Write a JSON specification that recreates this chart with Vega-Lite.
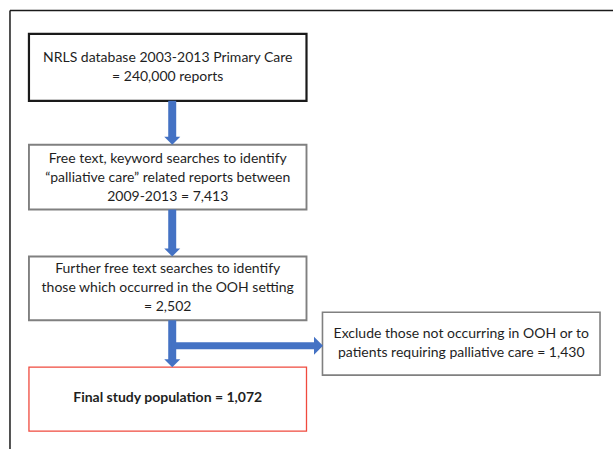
{
  "$schema": "https://vega.github.io/schema/vega-lite/v6.json",
  "width": 614,
  "height": 450,
  "padding": 0,
  "autosize": {"type": "fit", "contains": "padding"},
  "background": "white",
  "config": {"view": {"stroke": null}},
  "datasets": {
    "frame": [
      {"x": 10, "x2": 614, "y": 10.5, "y2": 10.5},
      {"x": 10, "x2": 10, "y": 10.5, "y2": 450}
    ],
    "boxes": [
      {"id": "B1", "role": "start", "x": 29, "x2": 307, "y": 34, "y2": 101},
      {"id": "B2", "role": "step", "x": 29, "x2": 307, "y": 145, "y2": 210},
      {"id": "B3", "role": "step", "x": 29, "x2": 307, "y": 257, "y2": 321},
      {"id": "B4", "role": "exclude", "x": 323, "x2": 601, "y": 313, "y2": 376},
      {"id": "B5", "role": "final", "x": 29, "x2": 307, "y": 368, "y2": 432}
    ],
    "shafts": [
      {"x": 168.5, "x2": 176.5, "y": 101, "y2": 138},
      {"x": 168.5, "x2": 176.5, "y": 210, "y2": 250},
      {"x": 168.5, "x2": 176.5, "y": 321, "y2": 361},
      {"x": 172, "x2": 316, "y": 343, "y2": 350}
    ],
    "heads": [
      {"dir": "down", "x": 172.5, "y": 141},
      {"dir": "down", "x": 172.5, "y": 253},
      {"dir": "down", "x": 172.5, "y": 364},
      {"dir": "right", "x": 319, "y": 346.5}
    ],
    "labels": [
      {"box": "B1", "weight": "normal", "x": 168, "y": 58, "text": "NRLS database 2003-2013 Primary Care"},
      {"box": "B1", "weight": "normal", "x": 168, "y": 77, "text": "= 240,000 reports"},
      {"box": "B2", "weight": "normal", "x": 168, "y": 159, "text": "Free text, keyword searches to identify"},
      {"box": "B2", "weight": "normal", "x": 168, "y": 178, "text": "“palliative care” related reports between"},
      {"box": "B2", "weight": "normal", "x": 168, "y": 197, "text": "2009-2013 = 7,413"},
      {"box": "B3", "weight": "normal", "x": 168, "y": 270, "text": "Further free text searches to identify"},
      {"box": "B3", "weight": "normal", "x": 168, "y": 289, "text": "those which occurred in the OOH setting"},
      {"box": "B3", "weight": "normal", "x": 168, "y": 308, "text": "= 2,502"},
      {"box": "B4", "weight": "normal", "x": 462, "y": 335, "text": "Exclude those not occurring in OOH or to"},
      {"box": "B4", "weight": "normal", "x": 462, "y": 354, "text": "patients requiring palliative care = 1,430"},
      {"box": "B5", "weight": "bold", "x": 168, "y": 399, "text": "Final study population = 1,072"}
    ]
  },
  "layer": [
    {
      "data": {"name": "frame"},
      "mark": {"type": "rule", "color": "#1a1a1a", "strokeWidth": 1.5},
      "encoding": {
        "x": {"field": "x", "type": "quantitative", "scale": {"domain": [0, 614], "nice": false, "zero": false}, "axis": null},
        "x2": {"field": "x2"},
        "y": {"field": "y", "type": "quantitative", "scale": {"domain": [0, 450], "nice": false, "zero": false, "reverse": true}, "axis": null},
        "y2": {"field": "y2"}
      }
    },
    {
      "data": {"name": "boxes"},
      "mark": {"type": "rect", "fill": "white"},
      "encoding": {
        "x": {"field": "x", "type": "quantitative"},
        "x2": {"field": "x2"},
        "y": {"field": "y", "type": "quantitative"},
        "y2": {"field": "y2"},
        "stroke": {"field": "role", "type": "nominal", "scale": {"domain": ["start", "step", "exclude", "final"], "range": ["#1a1a1a", "#808080", "#808080", "#f04a3e"]}, "legend": null},
        "strokeWidth": {"field": "role", "type": "nominal", "scale": {"domain": ["start", "step", "exclude", "final"], "range": [2.2, 1.3, 1.3, 2]}, "legend": null}
      }
    },
    {
      "data": {"name": "shafts"},
      "mark": {"type": "rect", "fill": "#4472c4"},
      "encoding": {
        "x": {"field": "x", "type": "quantitative"},
        "x2": {"field": "x2"},
        "y": {"field": "y", "type": "quantitative"},
        "y2": {"field": "y2"}
      }
    },
    {
      "data": {"name": "heads"},
      "transform": [{"filter": "datum.dir === 'down'"}],
      "mark": {"type": "point", "filled": true, "opacity": 1, "color": "#4472c4", "shape": "M-1,-0.5L1,-0.5L0,0.5Z", "size": 256},
      "encoding": {
        "x": {"field": "x", "type": "quantitative"},
        "y": {"field": "y", "type": "quantitative"}
      }
    },
    {
      "data": {"name": "heads"},
      "transform": [{"filter": "datum.dir === 'right'"}],
      "mark": {"type": "point", "filled": true, "opacity": 1, "color": "#4472c4", "shape": "M-0.5,-1L-0.5,1L0.5,0Z", "size": 324},
      "encoding": {
        "x": {"field": "x", "type": "quantitative"},
        "y": {"field": "y", "type": "quantitative"}
      }
    },
    {
      "data": {"name": "labels"},
      "transform": [{"filter": "datum.weight === 'normal'"}],
      "mark": {"type": "text", "font": "Lato", "fontSize": 14, "color": "#1f1f1f", "align": "center", "baseline": "middle"},
      "encoding": {
        "x": {"field": "x", "type": "quantitative"},
        "y": {"field": "y", "type": "quantitative"},
        "text": {"field": "text"}
      }
    },
    {
      "data": {"name": "labels"},
      "transform": [{"filter": "datum.weight === 'bold'"}],
      "mark": {"type": "text", "font": "Lato", "fontSize": 14, "fontWeight": "bold", "color": "#1f1f1f", "align": "center", "baseline": "middle"},
      "encoding": {
        "x": {"field": "x", "type": "quantitative"},
        "y": {"field": "y", "type": "quantitative"},
        "text": {"field": "text"}
      }
    }
  ]
}
